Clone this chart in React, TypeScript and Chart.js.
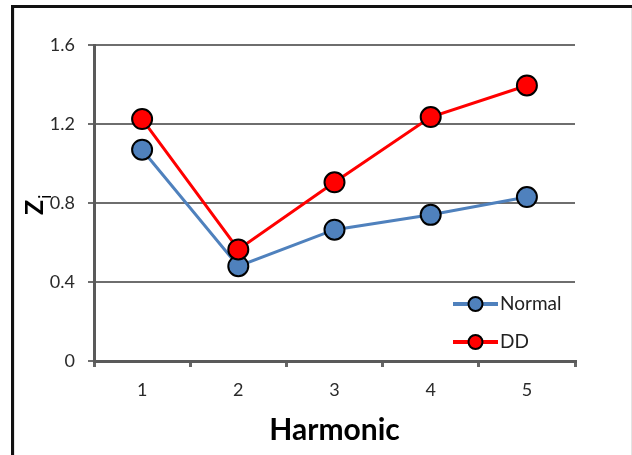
import React, { useEffect, useRef } from "react";
import { Chart, registerables } from "chart.js";

Chart.register(...registerables);

const categories = ["1", "2", "3", "4", "5"];
const normalValues = [1.07, 0.48, 0.665, 0.74, 0.83];
const ddValues = [1.225, 0.565, 0.905, 1.235, 1.395];
const seriesNames = ["Normal", "DD"];
const yTitleMain = "Z";
const yTitleSub = "i";
const xTitle = "Harmonic";

const BLUE = "#4F81BD";
const RED = "#FF0000";
const FONT = "Lato, 'Open Sans', sans-serif";

const framePlugin = {
  id: "frame",
  beforeDraw(chart: any) {
    const ctx = chart.ctx;
    ctx.save();
    ctx.fillStyle = "#ffffff";
    ctx.fillRect(0, 0, chart.width, chart.height);
    ctx.fillStyle = "#111111";
    ctx.fillRect(11, 5, 3, chart.height - 5);
    ctx.fillRect(11, 5, chart.width - 11, 3);
    ctx.fillStyle = "#e4e4e4";
    ctx.fillRect(14, 8, 1, chart.height - 8);
    ctx.fillRect(chart.width - 1, 8, 1, chart.height - 8);
    ctx.restore();
  },
  afterDraw(chart: any) {
    const ctx = chart.ctx;
    ctx.save();
    // y title: Z with subscript i, rotated
    ctx.translate(43, 215);
    ctx.rotate(-Math.PI / 2);
    ctx.fillStyle = "#000000";
    ctx.textAlign = "left";
    ctx.textBaseline = "alphabetic";
    ctx.font = "bold 25px " + FONT;
    ctx.fillText(yTitleMain, 0, 0);
    const w = ctx.measureText(yTitleMain).width;
    ctx.font = "17px " + FONT;
    ctx.fillText(yTitleSub, w + 1, 8);
    ctx.restore();

    // legend
    const items = [
      { label: seriesNames[0], color: BLUE, y: 304 },
      { label: seriesNames[1], color: RED, y: 342 },
    ];
    ctx.save();
    for (const it of items) {
      ctx.strokeStyle = it.color;
      ctx.lineWidth = 4;
      ctx.beginPath();
      ctx.moveTo(453, it.y);
      ctx.lineTo(498, it.y);
      ctx.stroke();
      ctx.beginPath();
      ctx.arc(475.5, it.y, 7, 0, Math.PI * 2);
      ctx.fillStyle = it.color;
      ctx.fill();
      ctx.lineWidth = 2;
      ctx.strokeStyle = "#000000";
      ctx.stroke();
      ctx.fillStyle = "#222222";
      ctx.font = "19px " + FONT;
      ctx.textAlign = "left";
      ctx.textBaseline = "middle";
      ctx.fillText(it.label, 500, it.y);
    }
    ctx.restore();
  },
};

export default function App() {
  const ref = useRef<HTMLCanvasElement | null>(null);
  useEffect(() => {
    if (!ref.current) return;
    const chart = new Chart(ref.current, {
      type: "line",
      data: {
        labels: categories,
        datasets: [
          {
            label: seriesNames[1],
            data: ddValues,
            borderColor: RED,
            backgroundColor: RED,
            borderWidth: 3,
            pointRadius: 10,
            pointBorderWidth: 2,
            pointBorderColor: "#000000",
            pointBackgroundColor: RED,
            tension: 0,
          },
          {
            label: seriesNames[0],
            data: normalValues,
            borderColor: BLUE,
            backgroundColor: BLUE,
            borderWidth: 3,
            pointRadius: 10,
            pointBorderWidth: 2,
            pointBorderColor: "#000000",
            pointBackgroundColor: BLUE,
            tension: 0,
          },
        ],
      },
      options: {
        animation: false,
        responsive: true,
        maintainAspectRatio: false,
        layout: { padding: { left: 0, right: 57, top: 45, bottom: 0 } },
        plugins: {
          legend: { display: false },
          tooltip: { enabled: false },
        },
        scales: {
          x: {
            offset: true,
            grid: {
              offset: true,
              drawOnChartArea: false,
              drawTicks: true,
              tickLength: 6,
              color: "#666666",
              lineWidth: 3,
            },
            border: { color: "#5a5a5a", width: 3 },
            ticks: {
              color: "#2a2a2a",
              font: { family: FONT, size: 18 },
              padding: 12,
              maxRotation: 0,
            },
            title: {
              display: true,
              text: xTitle,
              color: "#000000",
              font: { family: FONT, size: 30, weight: "bold" },
              padding: { top: 0, bottom: 7 },
            },
            afterFit(scale: any) {
              scale.height = 94;
            },
          },
          y: {
            min: 0,
            max: 1.6,
            ticks: {
              stepSize: 0.4,
              color: "#2a2a2a",
              font: { family: FONT, size: 18 },
              padding: 13,
              callback: (v: any) => (Number(v) === 0 ? "0" : Number(v).toFixed(1)),
            },
            grid: {
              color: "#6e6e6e",
              lineWidth: 2,
              tickLength: 6,
            },
            border: { color: "#5a5a5a", width: 3 },
            afterFit(scale: any) {
              scale.width = 94;
            },
          },
        },
      },
      plugins: [framePlugin],
    });
    return () => chart.destroy();
  }, []);
  return (
    <div style={{ position: "fixed", left: 0, top: 0, width: 632, height: 455 }}>
      <canvas ref={ref} />
    </div>
  );
}
